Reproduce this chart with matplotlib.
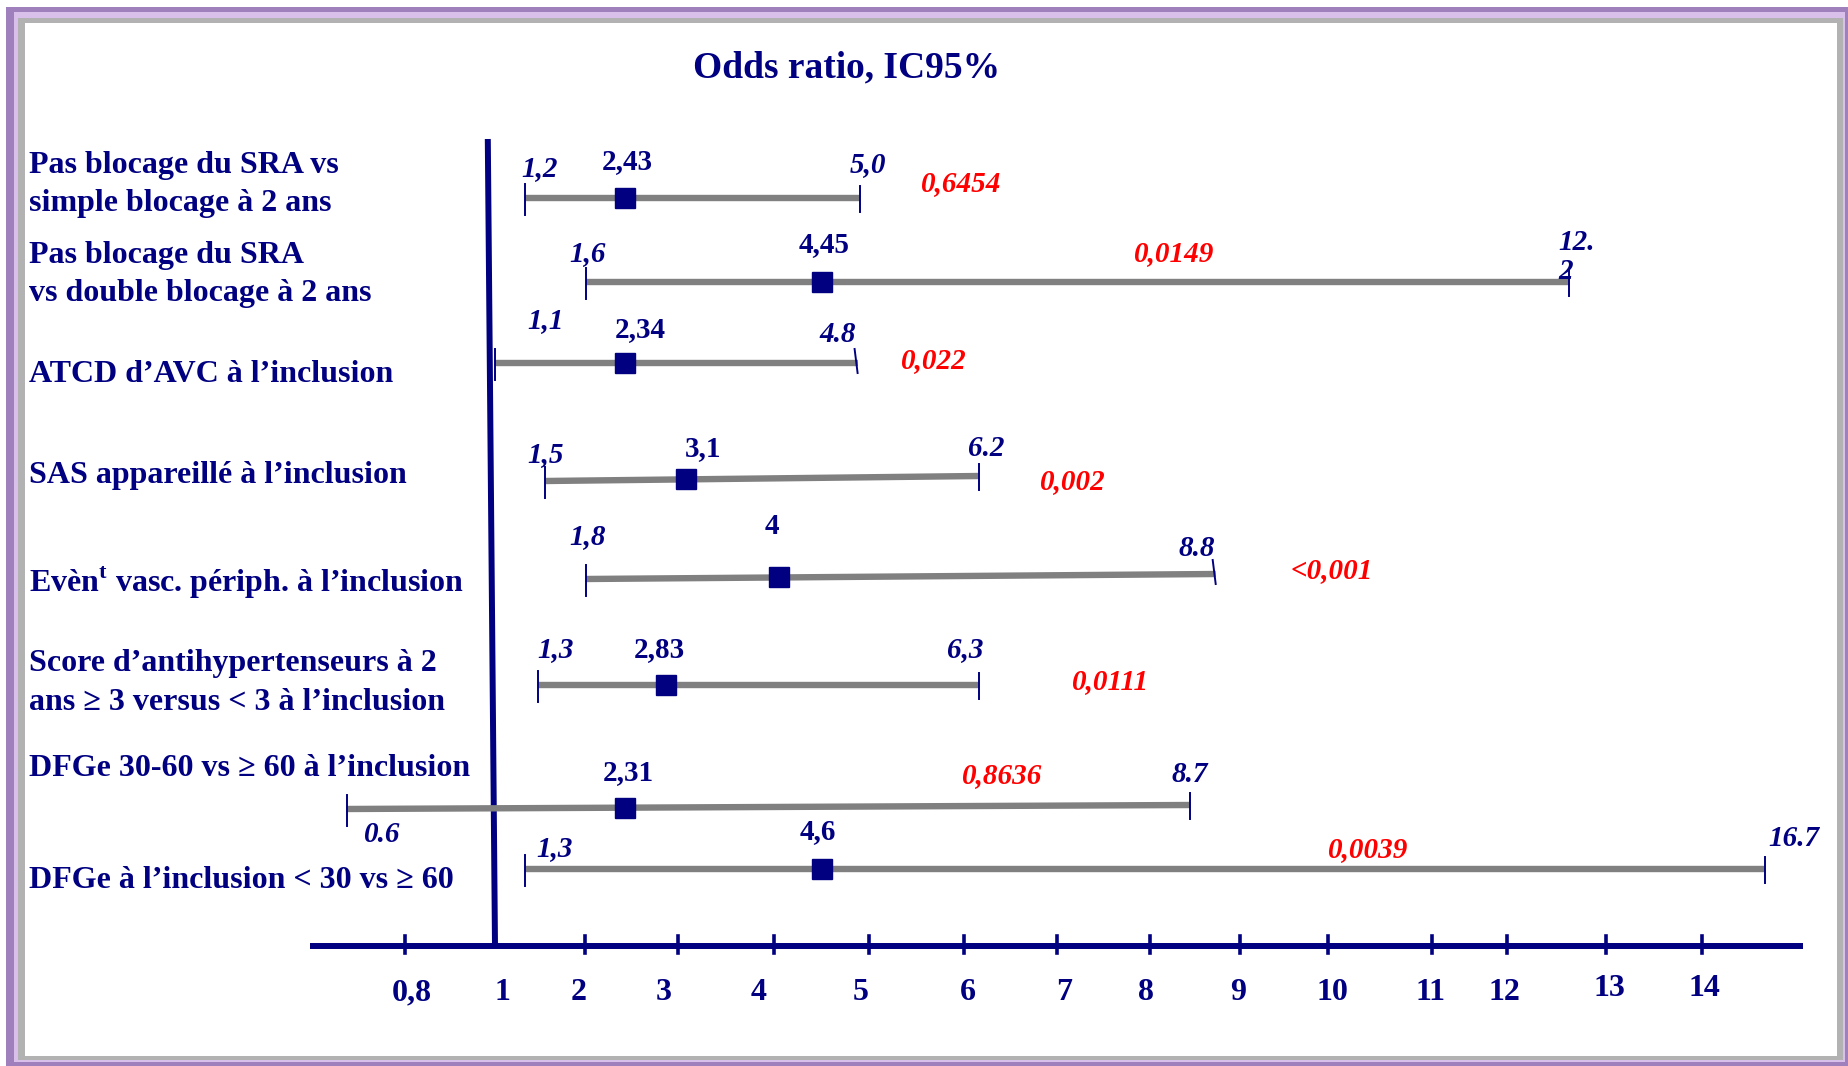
import numpy as np
import matplotlib
matplotlib.use("Agg")
import matplotlib.pyplot as plt
from matplotlib.patches import Rectangle

plt.rcParams["font.family"] = ["Liberation Serif", "DejaVu Serif"]
plt.rcParams["mathtext.fontset"] = "custom"
plt.rcParams["mathtext.bf"] = "Liberation Serif:bold"
plt.rcParams["mathtext.rm"] = "Liberation Serif:bold"

NAVY = "#000080"
RED = "#ff0000"
GREY = "#808080"

# ---- data ----
labels = [
    "Pas blocage du SRA vs\nsimple blocage à 2 ans",
    "Pas blocage du SRA\nvs double blocage à 2 ans",
    "ATCD d’AVC à l’inclusion",
    "SAS appareillé à l’inclusion",
    "Evèn$^{\\mathbf{t}}$ vasc. périph. à l’inclusion",
    "Score d’antihypertenseurs à 2\nans ≥ 3 versus < 3 à l’inclusion",
    "DFGe 30-60 vs ≥ 60 à l’inclusion",
    "DFGe à l’inclusion < 30 vs ≥ 60",
]
# positions as drawn against the (hand made) axis
or_val = [2.43, 4.51, 2.43, 3.08, 4.05, 2.87, 2.43, 4.51]
ci_lo = [1.33, 2.01, 1.0, 1.56, 2.01, 1.48, 0.67, 1.33]
ci_hi = [4.9, 12.63, 4.88, 6.16, 8.73, 6.16, 8.44, 14.66]
# printed values
or_txt = ["2,43", "4,45", "2,34", "3,1", "4", "2,83", "2,31", "4,6"]
lo_txt = ["1,2", "1,6", "1,1", "1,5", "1,8", "1,3", "0.6", "1,3"]
hi_txt = ["5,0", "12.\n2", "4.8", "6.2", "8.8", "6,3", "8.7", "16.7"]
p_txt = ["0,6454", "0,0149", "0,022", "0,002", "<0,001", "0,0111", "0,8636", "0,0039"]

tick_vals = [0.8, 1, 2, 3, 4, 5, 6, 7, 8, 9, 10, 11, 12, 13, 14]
tick_txt = ["0,8", "1", "2", "3", "4", "5", "6", "7", "8", "9", "10", "11", "12", "13", "14"]

# ---- layout (pixels) ----
W, H = 1849, 1066
tick_px = [405, 495, 585, 678, 774, 869, 964, 1057, 1150, 1240, 1328, 1432, 1507, 1606, 1702]
tick_lbl_dx = [7, 7, -6, -14, -15, -8, 4, 7, -4, -2, 4, -2, -3, 3, 2]
tick_lbl_dy = [47, 47, 47, 47, 47, 47, 47, 47, 47, 47, 47, 47, 47, 43, 43]
row_y = [198, 282, 363, 481, 579, 685, 809, 869]
row_tilt = [0, 0, 0, -5, -5, 0, -4, 0]
label_y = [184, 274, 375, 475, 583, 683, 769, 881]
lo_off = [(15, -29), (2, -28), (51, -42), (0, -26), (2, -42), (17, -35), (36, 25), (30, -20)]
or_off = [(2, -36), (2, -37), (15, -33), (17, -31), (-7, -51), (-7, -35), (3, -35), (-5, -37)]
hi_off = [(8, -33), (-11, -25), (-20, -29), (7, -27), (-19, -26), (-14, -35), (0, -31), (29, -31)]
p_pos = [(961, 184), (1174, 254), (934, 361), (1073, 482), (1332, 571), (1111, 682), (1002, 776), (1368, 850)]
slanted = [2, 4]


def pl(x, xp, fp):
    x = np.asarray(x, dtype=float)
    y = np.interp(x, xp, fp)
    y = np.where(x < xp[0], fp[0] + (x - xp[0]) * (fp[1] - fp[0]) / (xp[1] - xp[0]), y)
    y = np.where(x > xp[-1], fp[-1] + (x - xp[-1]) * (fp[-1] - fp[-2]) / (xp[-1] - xp[-2]), y)
    return y


def fwd(v):
    return pl(v, tick_vals, tick_px)


def inv(p):
    return pl(p, tick_px, tick_vals)


fig = plt.figure(figsize=(W / 100, H / 100), dpi=100)

# layout axes in pixel space: frame + free text
lay = fig.add_axes([0, 0, 1, 1], zorder=0)
lay.set_xlim(0, W)
lay.set_ylim(H, 0)
lay.axis("off")
lay.add_patch(Rectangle((6, 7), W - 6, H - 7, color="#9f80bd", lw=0))
lay.add_patch(Rectangle((14, 12), W - 18, H - 16, color="#d8c0ea", lw=0))
lay.add_patch(Rectangle((18, 18), 1843 - 18, 1060 - 18, color="#b2b2b2", lw=0))
lay.add_patch(Rectangle((25, 23), 1837 - 25, 1056 - 23, color="white", lw=0))

lay.text(847, 68, "Odds ratio, IC95%", color=NAVY, fontsize=27, fontweight="bold",
         ha="center", va="center")

for lab, yc in zip(labels, label_y):
    lines = lab.split("\n")
    y0 = yc - 19 * (len(lines) - 1)
    for k, ln in enumerate(lines):
        lay.text(29, y0 + 38 * k, ln, color=NAVY, fontsize=23, fontweight="bold",
                 ha="left", va="center")

for txt, (px, py) in zip(p_txt, p_pos):
    lay.text(px, py, txt, color=RED, fontsize=21, fontweight="bold", fontstyle="italic",
             ha="center", va="center")

# data axes with the hand-drawn scale
ax = fig.add_axes([0, 0, 1, 1], zorder=1)
ax.set_xscale("function", functions=(fwd, inv))
ax.set_xlim(float(inv(0)), float(inv(W)))
ax.set_ylim(H, 0)
ax.axis("off")

# x axis line, ticks and labels
ax.plot([0.59, 15.05], [946, 946], color=NAVY, lw=4.3, solid_capstyle="butt")
for v, t, dx, dy in zip(tick_vals, tick_txt, tick_lbl_dx, tick_lbl_dy):
    if v != 1:
        ax.plot([v, v], [936, 953], color=NAVY, lw=2.6)
    ax.annotate(t, xy=(v, 946), xytext=(dx, -dy), textcoords="offset pixels",
                color=NAVY, fontsize=23, fontweight="bold", ha="center", va="center")

# reference line at OR = 1 (drawn slightly leaning)
ax.plot([0.984, 1], [139, 946], color=NAVY, lw=4.3, solid_capstyle="butt")

for i in range(len(or_val)):
    y0 = row_y[i]
    y1 = y0 + row_tilt[i]
    lo, hi, o = ci_lo[i], ci_hi[i], or_val[i]
    ax.plot([lo, hi], [y0, y1], color=GREY, lw=4.6, solid_capstyle="butt", zorder=2)
    frac = (fwd(o) - fwd(lo)) / (fwd(hi) - fwd(lo))
    yo = y0 + row_tilt[i] * float(frac)
    ax.plot([o], [yo], marker="s", ms=15, color=NAVY, zorder=3)
    ax.plot([lo, lo], [y0 - 14, y0 + 17], color=NAVY, lw=1.4, zorder=3)
    if i in slanted:
        ax.plot([float(inv(fwd(hi) - 3)), hi], [y1 - 14, y1 + 10], color=NAVY, lw=1.4, zorder=3)
    else:
        ax.plot([hi, hi], [y1 - 12, y1 + 14], color=NAVY, lw=1.4, zorder=3)

    ax.annotate(lo_txt[i], xy=(lo, y0), xytext=(lo_off[i][0], -lo_off[i][1]),
                textcoords="offset pixels", color=NAVY, fontsize=21, fontweight="bold",
                fontstyle="italic", ha="center", va="center")
    ax.annotate(or_txt[i], xy=(o, yo), xytext=(or_off[i][0], -or_off[i][1]),
                textcoords="offset pixels", color=NAVY, fontsize=21, fontweight="bold",
                ha="center", va="center")
    ha = "left" if "\n" in hi_txt[i] else "center"
    ax.annotate(hi_txt[i], xy=(hi, y1), xytext=(hi_off[i][0], -hi_off[i][1]),
                textcoords="offset pixels", color=NAVY, fontsize=21, fontweight="bold",
                fontstyle="italic", ha=ha, va="center", linespacing=1.1)

fig.savefig("out.png", dpi=100)
